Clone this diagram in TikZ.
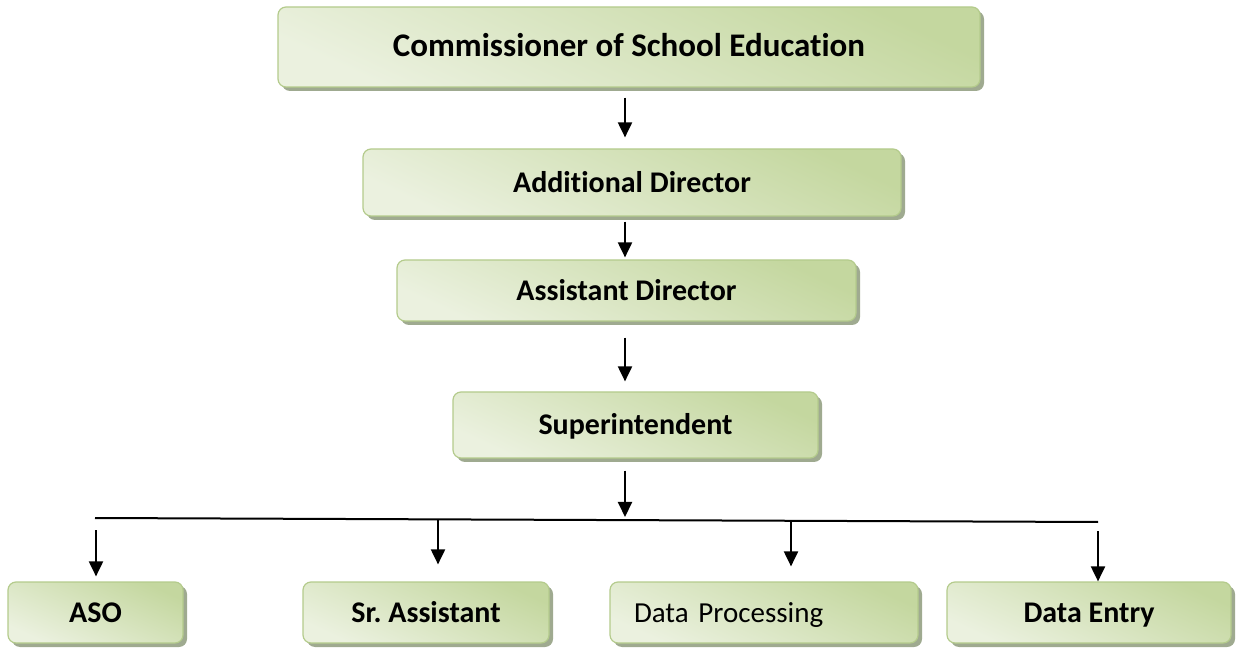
\documentclass[tikz,border=0pt]{standalone}
\usepackage{fontspec}
\setmainfont{Carlito}[Ligatures=CommonOff]
\usepackage{tikz}
\usetikzlibrary{
    arrows.meta,
    positioning,
    shadows
}

\definecolor{boxlight}{HTML}{EBF1DF}
\definecolor{boxmid}{HTML}{E1EBD1}
\definecolor{boxdark}{HTML}{C4D79F}
\definecolor{boxline}{HTML}{B4CB8C}
\definecolor{boxshadow}{HTML}{9FAA90}

\frenchspacing
\begin{document}
\begin{tikzpicture} [x=0.5pt, y=-0.5pt,
    level/.style={rounded corners=4pt, draw=boxline, line width=0.6pt,
        top color=boxdark, middle color=boxmid, bottom color=boxlight, shading angle=-25,
        drop shadow={shadow xshift=2pt, shadow yshift=-2pt, fill=boxshadow, opacity=1},
        font=\fontsize{15}{18}\selectfont\bfseries, align=center, inner sep=0pt,
        text height=12pt, text depth=2.3pt},
    arr/.style={-{Triangle[width=7pt,length=7.5pt]}, line width=1pt},
    bus/.style={line width=1pt}]
    \useasboundingbox (0,0) rectangle (1241,651);

    % chain of posts
    \node[level, minimum width=351pt, minimum height=40pt,
          font=\fontsize{16.5}{20}\selectfont\bfseries]  (com) at (629,47)    {Commissioner of School Education};
    \node[level, minimum width=269pt, minimum height=33.5pt] (add) at (632,182.5) {Additional Director};
    \node[level, minimum width=229.5pt, minimum height=30.5pt] (asd) at (626.5,290.5) {Assistant Director};
    \node[level, minimum width=182.5pt, minimum height=33pt] (sup) at (635.5,425) {Superintendent};

    % sections
    \node[level, minimum width=87.5pt, minimum height=30.5pt] (aso) at (95.5,612.5)  {ASO};
    \node[level, minimum width=123pt,  minimum height=30.5pt] (sra) at (426,612.5)   {Sr. Assistant};
    \node[level, minimum height=30.5pt, text width=130pt, inner xsep=12pt, align=left,
          font=\fontsize{14.5}{18}\selectfont]               (dp)  at (764,612.5)   {Data Processing};
    \node[level, minimum width=142pt,  minimum height=30.5pt] (de)  at (1089,612.5)  {Data Entry};

    \coordinate (spine) at (625,0);
    \coordinate (busL)  at (95,518);
    \coordinate (busR)  at (1098,522);
    \coordinate (busM)  at (625,520);
    \coordinate (b1)    at (96,518);
    \coordinate (b2)    at (438,519.5);
    \coordinate (b3)    at (791,521);
    \coordinate (b4)    at (1098,522);

    \draw[arr, shorten <=5pt, shorten >=5.5pt] (com.south -| spine) -- (add.north -| spine);
    \draw[arr, shorten <=2.5pt, shorten >=1pt]  (add.south -| spine) -- (asd.north -| spine);
    \draw[arr, shorten <=8pt, shorten >=5pt]   (asd.south -| spine) -- (sup.north -| spine);
    \draw[arr, shorten <=6pt, shorten >=1.5pt] (sup.south -| spine) -- (busM);

    \draw[bus] (busL) -- (busR);

    \draw[arr, shorten <=6pt, shorten >=2.5pt] (b1) -- (b1 |- aso.north);
    \draw[arr, shorten >=8.5pt]                (b2) -- (b2 |- sra.north);
    \draw[arr, shorten >=7.5pt]                (b3) -- (b3 |- dp.north);
    \draw[arr, shorten <=4.5pt]                (b4) -- (b4 |- de.north);
\end{tikzpicture}
\end{document}
